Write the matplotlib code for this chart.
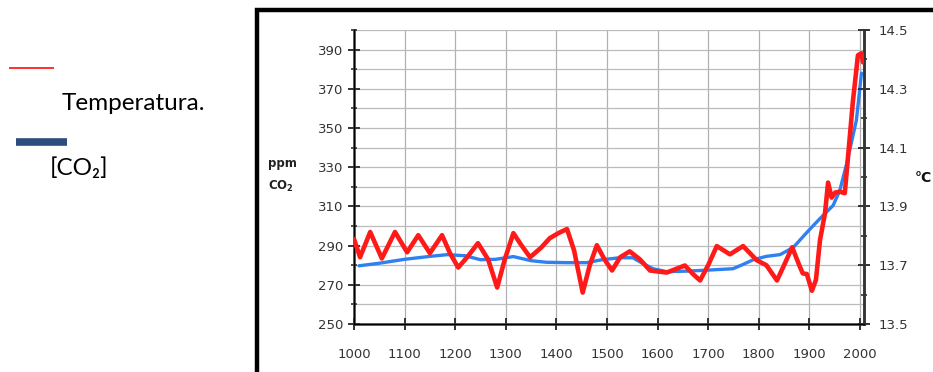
import matplotlib
matplotlib.use("Agg")
import matplotlib.pyplot as plt
from matplotlib.patches import Rectangle
from matplotlib.lines import Line2D
from matplotlib.ticker import MultipleLocator

# CO2 concentration (ppm)
co2_years = [1010, 1050, 1100, 1150, 1185, 1220, 1250, 1280, 1315, 1350, 1380,
             1420, 1460, 1490, 1525, 1551, 1570, 1591, 1618, 1660, 1700, 1749,
             1770, 1789, 1815, 1842, 1868, 1895, 1921, 1947, 1960, 1974, 1993, 2003]
co2_ppm = [279.7, 281.0, 283.0, 284.5, 285.4, 284.8, 282.8, 283.0, 284.4, 282.3,
           281.5, 281.3, 281.3, 282.8, 283.8, 283.8, 281.0, 278.2, 276.7, 277.0,
           277.5, 278.2, 280.5, 282.8, 284.5, 285.4, 289.0, 296.7, 303.8, 310.5,
           318.0, 332.0, 354.0, 378.0]

# temperature (deg C)
temp_years = [1000, 1012, 1032, 1055, 1081, 1105, 1127, 1150, 1174, 1190, 1206,
              1225, 1245, 1265, 1283, 1298, 1315, 1330, 1348, 1370, 1387, 1405,
              1421, 1435, 1452, 1466, 1480, 1495, 1510, 1526, 1545, 1565, 1585,
              1618, 1654, 1670, 1684, 1700, 1717, 1743, 1769, 1796, 1815, 1836,
              1850, 1866, 1880, 1887, 1895, 1905, 1913, 1921, 1931, 1937, 1944,
              1951, 1960, 1970, 1976, 1986, 1996, 2003, 2006]
temp_c = [13.789, 13.727, 13.813, 13.723, 13.813, 13.744, 13.802, 13.741, 13.802,
          13.740, 13.692, 13.730, 13.775, 13.720, 13.624, 13.720, 13.809, 13.770,
          13.727, 13.760, 13.792, 13.810, 13.823, 13.750, 13.607, 13.700, 13.768,
          13.720, 13.682, 13.727, 13.747, 13.720, 13.682, 13.675, 13.699, 13.670,
          13.648, 13.700, 13.765, 13.737, 13.765, 13.717, 13.700, 13.648, 13.700,
          13.761, 13.700, 13.672, 13.670, 13.613, 13.650, 13.785, 13.878, 13.981,
          13.930, 13.947, 13.950, 13.945, 14.060, 14.256, 14.414, 14.421, 14.390]

x_ticks = list(range(1000, 2001, 100))
ppm_ticks = list(range(250, 391, 20))
temp_ticks = [13.5, 13.7, 13.9, 14.1, 14.3, 14.5]

W, H = 933, 372
fig = plt.figure(figsize=(W / 100, H / 100), dpi=100)

# black frame around the chart (runs off the right/bottom edge)
fig.patches.append(Rectangle((257 / W, -0.1), 1.2, (H - 10) / H + 0.1,
                             transform=fig.transFigure, fill=False,
                             edgecolor="black", linewidth=3.2))

ax = fig.add_axes([354 / W, 1 - 324 / H, (864 - 354) / W, (324 - 30) / H])
ax.plot(co2_years, co2_ppm, color="#2f80f0", lw=2.4, solid_capstyle="round",
        solid_joinstyle="round", zorder=3)
ax.set_xlim(1000, 2008)
ax.set_ylim(250, 400)
ax.set_xticks(x_ticks)
ax.set_yticks(ppm_ticks)
ax.yaxis.set_minor_locator(MultipleLocator(10))
ax.grid(True, which="both", axis="y", color="#bbbbbb", lw=0.9)
ax.grid(True, which="major", axis="x", color="#b0b0b0", lw=0.9)
ax.set_axisbelow(True)
ax.tick_params(axis="both", which="major", direction="inout", length=9,
               width=1.4, color="#333333", labelsize=9.5, labelcolor="#333333")
ax.tick_params(axis="y", which="minor", direction="inout", length=5,
               width=1.2, color="#333333")
ax.tick_params(axis="x", pad=13)
ax.spines["top"].set_visible(False)
for s in ("left", "bottom", "right"):
    ax.spines[s].set_linewidth(1.8)
    ax.spines[s].set_color("#333333")

ax2 = ax.twinx()
ax2.plot(temp_years, temp_c, color="#ff1a1a", lw=3.3, solid_capstyle="round",
         solid_joinstyle="round", zorder=4)
ax2.set_ylim(13.5, 14.5)
ax2.set_yticks(temp_ticks)
ax2.yaxis.set_minor_locator(MultipleLocator(0.1))
ax2.tick_params(axis="y", which="major", direction="inout", length=9,
                width=1.4, color="#333333", labelsize=9.5, labelcolor="#333333",
                pad=6)
ax2.tick_params(axis="y", which="minor", direction="inout", length=5,
                width=1.2, color="#333333")
ax2.spines["top"].set_visible(False)
ax2.spines["right"].set_linewidth(1.8)
ax2.spines["right"].set_color("#333333")

# axis unit labels
fig.text(268 / W, 1 - 163 / H, "ppm", fontsize=8.5, fontweight="bold",
         color="#222222", va="center", ha="left")
fig.text(268 / W, 1 - 186 / H, "CO$_\\mathbf{2}$", fontsize=8.5,
         fontweight="bold", color="#222222", va="center", ha="left")
fig.text(915 / W, 1 - 178 / H, "°C", fontsize=10, fontweight="bold",
         color="#111111", va="center", ha="left")

# hand-made legend on the left
fig.lines.append(Line2D([9 / W, 54 / W], [1 - 68 / H, 1 - 68 / H],
                        transform=fig.transFigure, color="#ff2020", lw=1.3,
                        solid_capstyle="butt"))
fig.lines.append(Line2D([16 / W, 67 / W], [1 - 142 / H, 1 - 142 / H],
                        transform=fig.transFigure, color="#2b4c7e", lw=5.5,
                        solid_capstyle="butt"))
fig.text(62 / W, 1 - 103 / H, "Temperatura.", fontsize=17.5,
         family=["Lato", "DejaVu Sans"], color="black", va="center", ha="left")
fig.text(50 / W, 1 - 168 / H, "[CO₂]", fontsize=17.5,
         family=["Lato", "DejaVu Sans"], color="black", va="center", ha="left")

fig.savefig("out.png", dpi=100)
